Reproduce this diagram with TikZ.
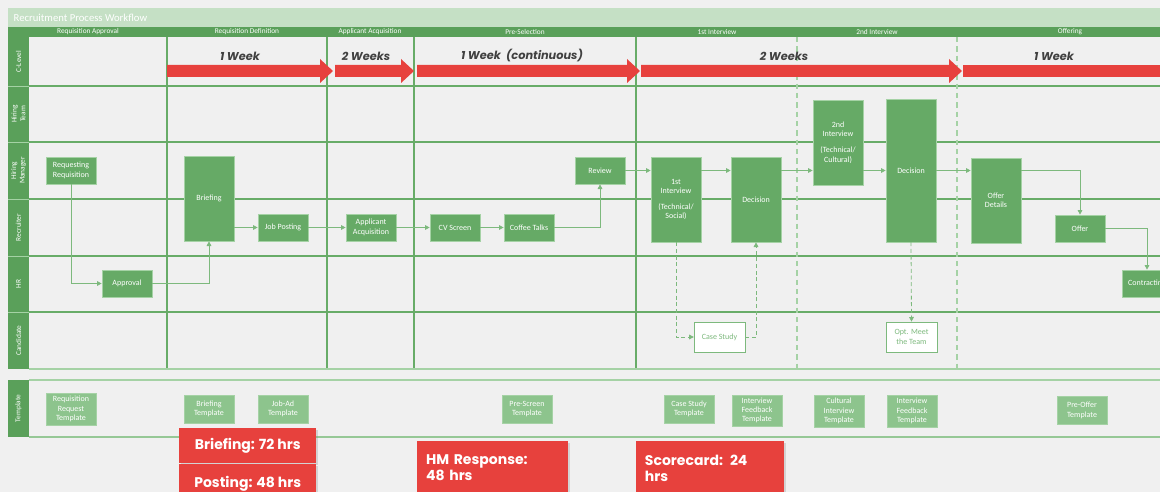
\documentclass[tikz,border=0pt]{standalone}
\usepackage{fontspec}
\setmainfont{Carlito}
\newfontfamily\headfont{Poppins}
\usetikzlibrary{arrows.meta, shadows}

\definecolor{bggray}{RGB}{240,240,240}
\definecolor{titlegreen}{RGB}{197,224,197}
\definecolor{darkgreen}{RGB}{90,160,90}
\definecolor{taskgreen}{RGB}{102,170,102}
\definecolor{linegreen}{RGB}{104,172,104}
\definecolor{flowgreen}{RGB}{125,185,125}
\definecolor{palegreen}{RGB}{165,210,165}
\definecolor{tplgreen}{RGB}{141,196,141}
\definecolor{alertred}{RGB}{231,65,61}
\definecolor{labelgray}{RGB}{64,64,64}

\begin{document}
\begin{tikzpicture}[x=0.75pt, y=-0.75pt, >={Triangle[length=3.5pt,width=3.5pt]},
    task/.style={draw=palegreen, line width=0.5pt, fill=taskgreen, text=white, align=center,
        font=\fontsize{6}{7}\selectfont, minimum width=37.5pt, minimum height=20.25pt, inner sep=1pt},
    tall/.style={task, minimum height=63.75pt},
    extask/.style={task, fill=white, draw=flowgreen, text=flowgreen, minimum width=38pt, minimum height=22.5pt},
    tpl/.style={task, fill=tplgreen, draw=palegreen, minimum height=21pt},
    alert/.style={fill=alertred, text=white, font=\headfont\bfseries\fontsize{10.5}{12}\selectfont,
        anchor=north west, drop shadow={opacity=0.25, shadow xshift=1pt, shadow yshift=-1pt}},
    flow/.style={->, draw=flowgreen, line width=0.6pt},
    laneline/.style={draw=linegreen, line width=0.9pt},
    phase/.style={text=white, font=\fontsize{5.5}{6.5}\selectfont},
    lanelbl/.style={text=white, rotate=90, align=center, font=\fontsize{5.5}{6.5}\selectfont},
    wklbl/.style={text=labelgray, font=\headfont\bfseries\itshape\fontsize{8.5}{10}\selectfont}]

    % --- CANVAS ---
    \useasboundingbox (0,0) rectangle (1160,492);
    \clip (0,0) rectangle (1160,492);
    \fill[bggray] (0,0) rectangle (1160,492);

    % --- HEADER ---
    \fill[titlegreen] (8,8) rectangle (1170,27);
    \node[text=white, anchor=west, font=\fontsize{8}{9}\selectfont] (title) at (9,17.5) {Recruitment Process Workflow};
    \fill[darkgreen] (8,27) rectangle (1170,37);
    \foreach \x/\name [count=\i] in {88/Requisition Approval, 247/Requisition Definition,
        370/Applicant Acquisition, 525/Pre-Selection, 717/1st Interview, 877/2nd Interview, 1070/Offering}
        \node[phase] (ph\i) at (\x,32) {\name};

    % --- LANES ---
    \fill[darkgreen] (8,37) rectangle (29,369);
    \foreach \ya/\yb/\name [count=\i] in {37/86/C-Level, 86/142/{Hiring\\Team}, 142/199/{Hiring\\Manager},
        199/256/Recruiter, 256/312/HR, 312/369/Candidate}
        \node[lanelbl] (lane\i) at (18.5,{(\ya+\yb)/2}) {\name};
    \foreach \y in {86,142,199,256,312} {
        \draw[palegreen, line width=0.5pt] (8,\y) -- (29,\y);
        \draw[laneline] (29,\y) -- (1170,\y);
    }
    \foreach \x in {167,327,414,636}
        \draw[laneline] (\x,37) -- (\x,369);
    \foreach \x in {797,957}
        \draw[laneline, draw=palegreen, dash pattern=on 4pt off 3pt] (\x,37) -- (\x,369);
    \draw[palegreen, line width=1.5pt] (29,369) -- (1170,369);

    % template lane
    \fill[darkgreen] (8,380) rectangle (29,437);
    \node[lanelbl] (lane7) at (18.5,408.5) {Template};
    \draw[palegreen, line width=1.2pt] (29,380) -- (1170,380);
    \draw[palegreen!80!darkgreen, line width=1.2pt] (29,437) -- (1170,437);

    % --- TIMELINE (C-LEVEL) ---
    \foreach \xa/\xb/\xl/\lbl [count=\i] in {167/333/240/{1 Week}, 335/414/366/{2 Weeks},
        417/640/522/{1 Week\ \ (continuous)}, 641/962/784/{2 Weeks}} {
        \fill[alertred] (\xa,65) -- (\xb-13,65) -- (\xb-13,59) -- (\xb,71) -- (\xb-13,83)
            -- (\xb-13,77) -- (\xa,77) -- cycle;
        \node[wklbl] (wk\i) at (\xl,56) {\lbl};
    }
    \fill[alertred] (963,65) rectangle (1170,77);
    \node[wklbl] (wk5) at (1054,56) {1 Week};

    % --- TASKS ---
    \node[task] (reqreq) at (71,170.5) {Requesting\\Requisition};
    \node[task] (approval) at (127,283.5) {Approval};
    \node[tall] (briefing) at (209,198.5) {Briefing};
    \node[task] (jobpost) at (283,227.5) {Job Posting};
    \node[task] (appacq) at (371,227.5) {Applicant\\Acquisition};
    \node[task] (cvscreen) at (455,227.5) {CV Screen};
    \node[task] (coffee) at (529,227.5) {Coffee Talks};
    \node[task] (review) at (600,170.5) {Review};
    \node[tall] (intone) at (676,199.5) {1st\\Interview\\[5pt](Technical/\\Social)};
    \node[tall] (decone) at (756,199.5) {Decision};
    \node[tall] (inttwo) at (838,142.5) {2nd\\Interview\\[5pt](Technical/\\Cultural)};
    \node[tall, minimum height=107pt] (dectwo) at (911,170.5) {Decision};
    \node[tall] (offerdet) at (996,200.5) {Offer\\Details};
    \node[task] (offer) at (1080,228.5) {Offer};
    \node[task] (contract) at (1147,283.5) {Contracting};
    \node[extask] (casestudy) at (719.5,337) {Case Study};
    \node[extask] (meet) at (911.5,337) {Opt. Meet\\the Team};

    % --- FLOWS ---
    \draw[flow] (reqreq.south) |- (approval.west);
    \draw[flow] (approval.east) -| (briefing.south);
    \draw[flow] (briefing.east |- jobpost.west) -- (jobpost.west);
    \draw[flow] (jobpost) -- (appacq);
    \draw[flow] (appacq) -- (cvscreen);
    \draw[flow] (cvscreen) -- (coffee);
    \draw[flow] (coffee.east) -| (review.south);
    \draw[flow] (review.east) -- (review.east -| intone.west);
    \draw[flow] (intone.east |- review.east) -- (decone.west |- review.east);
    \draw[flow] (decone.east |- review.east) -- (inttwo.west |- review.east);
    \draw[flow] (inttwo.east |- review.east) -- (dectwo.west |- review.east);
    \draw[flow] (dectwo.east |- review.east) -- (offerdet.west |- review.east);
    \draw[flow] (offerdet.east |- review.east) -| (offer.north);
    \draw[flow] (offer.east) -| (contract.north);
    \draw[flow, dash pattern=on 3pt off 2pt] (intone.south) |- (casestudy.west);
    \draw[flow, dash pattern=on 3pt off 2pt] (casestudy.east) -| (decone.south);
    \draw[flow, dash pattern=on 3pt off 2pt] (dectwo.south) -- (meet.north);

    % --- TEMPLATES ---
    \node[tpl, minimum height=24pt] (tplreq) at (71,409) {Requisition\\Request\\Template};
    \node[tpl] (tplbrief) at (209,409) {Briefing\\Template};
    \node[tpl] (tpljob) at (283,409) {Job-Ad\\Template};
    \node[tpl] (tplscreen) at (527,409) {Pre-Screen\\Template};
    \node[tpl] (tplcase) at (689,409) {Case Study\\Template};
    \node[tpl, minimum height=23.5pt] (tplfbone) at (757,410.5) {Interview\\Feedback\\Template};
    \node[tpl, minimum height=24pt] (tplcult) at (839,411) {Cultural\\Interview\\Template};
    \node[tpl, minimum height=24pt] (tplfbtwo) at (912,411) {Interview\\Feedback\\Template};
    \node[tpl] (tploffer) at (1082,410.5) {Pre-Offer\\Template};

    % --- SLAs ---
    \node[alert, minimum width=102.75pt, minimum height=26.25pt] (slabrief) at (179,428) {Briefing: 72 hrs};
    \node[alert, minimum width=102.75pt, minimum height=30pt] (slapost) at (179,464) {Posting: 48 hrs};
    \node[alert, minimum width=113.25pt, minimum height=40pt, text width=100pt, align=left] (slahm) at (417,441) {HM Response:\\48 hrs};
    \node[alert, minimum width=111pt, minimum height=40pt, text width=98pt, align=left] (slascore) at (636,441) {Scorecard: 24\\hrs};

\end{tikzpicture}
\end{document}
